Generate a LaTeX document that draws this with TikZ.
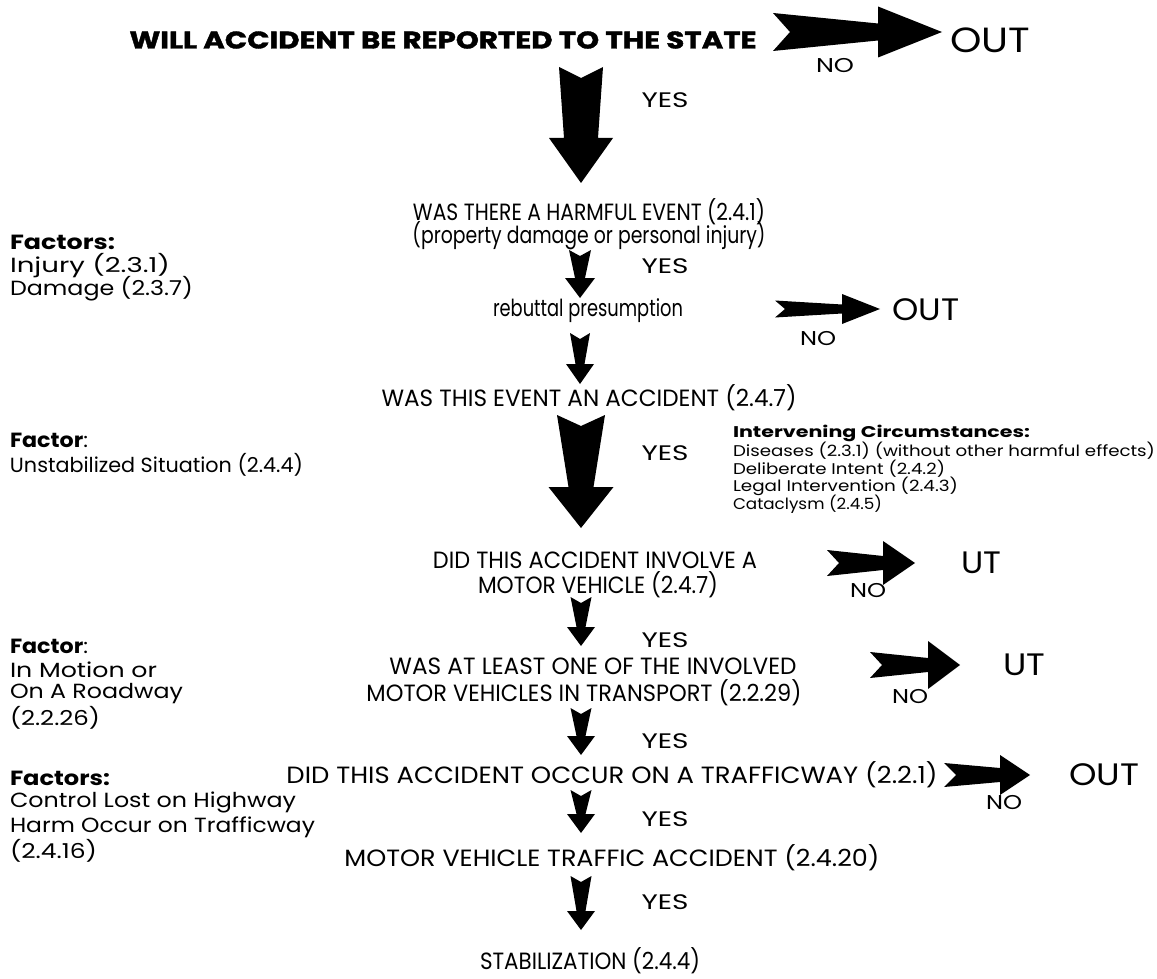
\documentclass[tikz,border=0pt]{standalone}
\usepackage{fontspec}
\setmainfont{Poppins}
\usetikzlibrary{calc}
\newcommand\fw[2]{\resizebox{#1pt}{\height}{#2}}
% block arrow: #1 tail coord, #2 tip coord, #3 tail half width, #4 shaft half width at head,
% #5 head half width, #6 head length, #7 notch depth
\newcommand\barrow[7]{%
  \coordinate (#1-h) at ($(#2)!#6pt!(#1)$);
  \fill ($(#1)!#3pt!90:(#2)$) -- ($(#1)!#7pt!(#2)$) -- ($(#1)!#3pt!-90:(#2)$)
    -- ($(#1-h)!#4pt!-90:(#2)$) -- ($(#1-h)!#5pt!-90:(#2)$) -- (#2)
    -- ($(#1-h)!#5pt!90:(#2)$) -- ($(#1-h)!#4pt!90:(#2)$) -- cycle;}
\tikzset{
  qbox/.style={font=\fontsize{23.5}{26}\selectfont},
  titlebox/.style={font=\fontsize{24}{26}\selectfont\bfseries\addfontfeature{FakeBold=1.5}},
  yeslbl/.style={font=\fontsize{21}{24}\selectfont},
  nolbl/.style={font=\fontsize{20}{22}\selectfont},
  outlbl/.style={font=\fontsize{35}{38}\selectfont},
  outsm/.style={font=\fontsize{31}{34}\selectfont},
  sidelbl/.style={font=\fontsize{20.5}{24}\selectfont, anchor=west},
  iclbl/.style={font=\fontsize{15.5}{18}\selectfont, anchor=west},
}
\begin{document}
\begin{tikzpicture}[x=1pt,y=-1pt, every node/.style={inner sep=0pt, outer sep=0pt}]
\useasboundingbox (0,0) rectangle (1157,979);

% main questions
\node[titlebox] (q0) at (443,40) {\fw{627}{WILL ACCIDENT BE REPORTED TO THE STATE}};
\node[qbox] (q1a) at (589,212) {\fw{352}{WAS THERE A HARMFUL EVENT (2.4.1)}};
\node[qbox] (q1b) at (589,236) {\fw{353}{(property damage or personal injury)}};
\node[qbox] (q2) at (588,311) {\fw{190}{rebuttal presumption}};
\node[qbox] (q3) at (589,398) {\fw{415}{WAS THIS EVENT AN ACCIDENT (2.4.7)}};
\node[qbox] (q4a) at (595,560) {\fw{324}{DID THIS ACCIDENT INVOLVE A}};
\node[qbox] (q4b) at (598,585) {\fw{240}{MOTOR VEHICLE (2.4.7)}};
\node[qbox] (q5a) at (593,666) {\fw{407}{WAS AT LEAST ONE OF THE INVOLVED}};
\node[qbox] (q5b) at (584,693) {\fw{435}{MOTOR VEHICLES IN TRANSPORT (2.2.29)}};
\node[qbox] (q6) at (612,775) {\fw{651}{DID THIS ACCIDENT OCCUR ON A TRAFFICWAY (2.2.1)}};
\node[qbox] (q7) at (612,858) {\fw{535}{MOTOR VEHICLE TRAFFIC ACCIDENT (2.4.20)}};
\node[qbox] (q8) at (590,961) {\fw{220}{STABILIZATION (2.4.4)}};

% OUT labels
\node[outlbl] (o1) at (990,40) {\fw{80}{OUT}};
\node[outsm] (o2) at (926,310) {\fw{67}{OUT}};
\node[outsm] (o3) at (981,563) {\fw{40}{UT}};
\node[outsm] (o4) at (1024,665) {\fw{42}{UT}};
\node[outsm] (o5) at (1104,775) {\fw{70}{OUT}};

% YES / NO labels
\node[yeslbl] (y1) at (665,100) {\fw{47}{YES}};
\node[yeslbl] (y2) at (665,266) {\fw{47}{YES}};
\node[yeslbl] (y3) at (665,453) {\fw{47}{YES}};
\node[yeslbl] (y4) at (665,640) {\fw{47}{YES}};
\node[yeslbl] (y5) at (665,741) {\fw{47}{YES}};
\node[yeslbl] (y6) at (665,819) {\fw{47}{YES}};
\node[yeslbl] (y7) at (665,902) {\fw{47}{YES}};
\node[nolbl] (n1) at (835,66) {\fw{38}{NO}};
\node[nolbl] (n2) at (818,339) {\fw{36}{NO}};
\node[nolbl] (n3) at (868,591) {\fw{36}{NO}};
\node[nolbl] (n4) at (910,697) {\fw{36}{NO}};
\node[nolbl] (n5) at (1004,803) {\fw{36}{NO}};

% side notes
\node[sidelbl] (f1) at (10,242) {\fw{105}{\bfseries Factors:}};
\node[sidelbl] (f1a) at (10,266) {\fw{160}{Injury (2.3.1)}};
\node[sidelbl] (f1b) at (10,289) {\fw{183}{Damage (2.3.7)}};
\node[sidelbl] (f2) at (10,440) {\fw{78}{{\bfseries Factor}:}};
\node[sidelbl] (f2a) at (10,465) {\fw{293}{Unstabilized Situation (2.4.4)}};
\node[sidelbl] (f3) at (10,646) {\fw{78}{{\bfseries Factor}:}};
\node[sidelbl] (f3a) at (10,670) {\fw{147}{In Motion or}};
\node[sidelbl] (f3b) at (10,694) {\fw{173}{On A Roadway}};
\node[sidelbl] (f3c) at (10,718) {\fw{90}{(2.2.26)}};
\node[sidelbl] (f4) at (10,778) {\fw{100}{\bfseries Factors:}};
\node[sidelbl] (f4a) at (10,802) {\fw{286}{Control Lost on Highway}};
\node[sidelbl] (f4b) at (10,827) {\fw{305}{Harm Occur on Trafficway}};
\node[sidelbl] (f4c) at (10,851) {\fw{87}{(2.4.16)}};

% intervening circumstances
\node[iclbl] (i0) at (733,433) {\fw{297}{\bfseries Intervening Circumstances:}};
\node[iclbl] (i1) at (733,451) {\fw{422}{Diseases (2.3.1) (without other harmful effects)}};
\node[iclbl] (i2) at (733,469) {\fw{212}{Deliberate Intent (2.4.2)}};
\node[iclbl] (i3) at (733,486) {\fw{225}{Legal Intervention (2.4.3)}};
\node[iclbl] (i4) at (733,504) {\fw{149}{Cataclysm (2.4.5)}};

% arrow end points
\coordinate (d1s) at (581,67);  \coordinate (d1e) at (581,183);
\coordinate (d2s) at (580,250); \coordinate (d2e) at (580,298);
\coordinate (d3s) at (580,333); \coordinate (d3e) at (580,384);
\coordinate (d4s) at (581,415); \coordinate (d4e) at (581,528);
\coordinate (d5s) at (581,597); \coordinate (d5e) at (581,646);
\coordinate (d6s) at (581,708); \coordinate (d6e) at (581,755);
\coordinate (d7s) at (581,790); \coordinate (d7e) at (581,833);
\coordinate (d8s) at (581,876); \coordinate (d8e) at (581,930);
\coordinate (r1s) at (773,32);  \coordinate (r1e) at (942,32);
\coordinate (r2s) at (775,309); \coordinate (r2e) at (880,309);
\coordinate (r3s) at (827,563); \coordinate (r3e) at (915,563);
\coordinate (r4s) at (870,665); \coordinate (r4e) at (960,665);
\coordinate (r5s) at (944,775); \coordinate (r5e) at (1030,775);

\barrow{d1s}{d1e}{22}{17}{32}{45}{11}
\barrow{d2s}{d2e}{11}{5}{15}{20}{6}
\barrow{d3s}{d3e}{10}{4.5}{14}{20}{6}
\barrow{d4s}{d4e}{24}{12.5}{32.5}{41}{11}
\barrow{d5s}{d5e}{10.5}{4.5}{14}{19}{6}
\barrow{d6s}{d6e}{10.5}{4.5}{14}{19}{6}
\barrow{d7s}{d7e}{10.5}{4.5}{14}{19}{6}
\barrow{d8s}{d8e}{10.5}{4.5}{14}{19}{6}
\barrow{r1s}{r1e}{19}{8.5}{25.5}{64}{17}
\barrow{r2s}{r2e}{8.5}{4.5}{15}{38}{10}
\barrow{r3s}{r3e}{13}{7}{22}{32}{12}
\barrow{r4s}{r4e}{13}{7}{24}{32}{12}
\barrow{r5s}{r5e}{12}{7}{20}{30}{12}
\end{tikzpicture}
\end{document}
